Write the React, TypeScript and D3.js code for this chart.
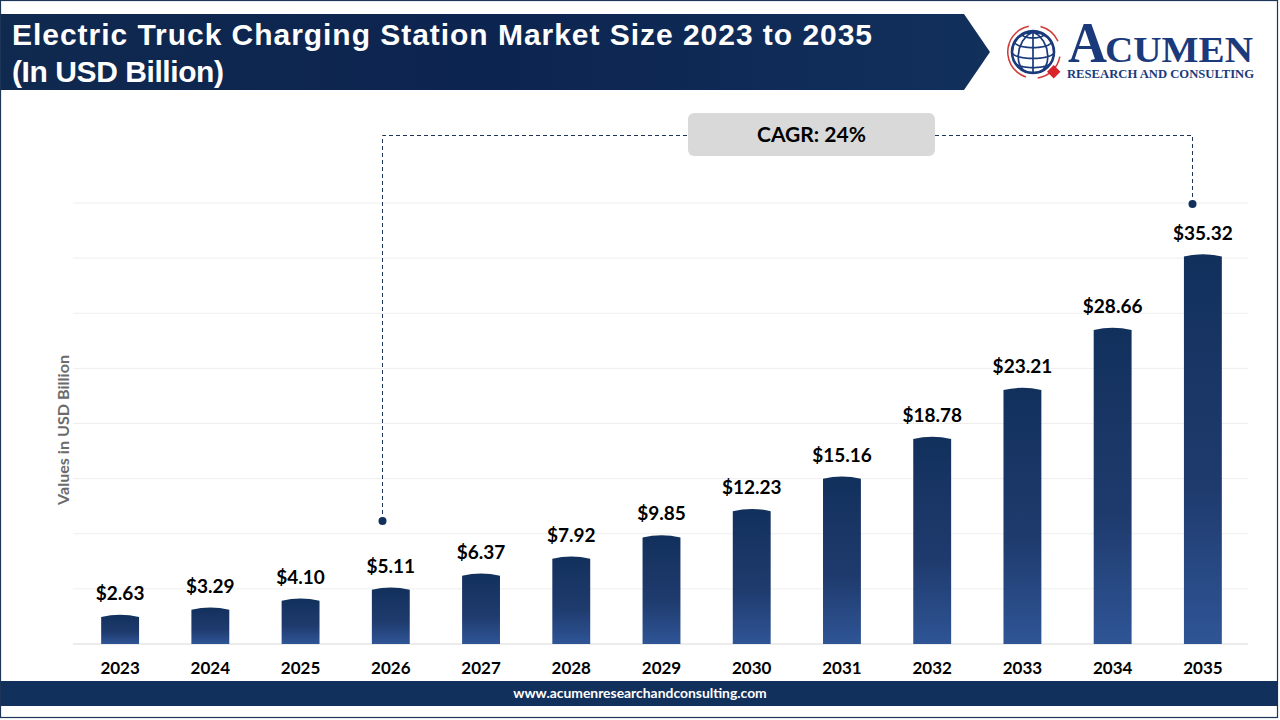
import * as d3 from "d3";

const years = ["2023", "2024", "2025", "2026", "2027", "2028", "2029", "2030", "2031", "2032", "2033", "2034", "2035"];
const marketSize = [2.63, 3.29, 4.1, 5.11, 6.37, 7.92, 9.85, 12.23, 15.16, 18.78, 23.21, 28.66, 35.32];
const gridTicks = [0, 5, 10, 15, 20, 25, 30, 35, 40];
const titleLines = ["Electric Truck Charging Station Market Size 2023 to 2035", "(In USD Billion)"];

const NAVY = "#12305c";
const LABEL_FONT = "Lato, Carlito, 'Open Sans', sans-serif";

const x = d3.scaleBand<string>().domain(years).range([75, 1248]).paddingInner(0.58).paddingOuter(0.29);
const y = d3.scaleLinear().domain([0, 40]).range([644, 203]);

// bar with a slightly domed top, like the reference
function barPath(year: string, value: number) {
  const x0 = x(year) ?? 0;
  const w = x.bandwidth();
  const top = y(value);
  const path = d3.path();
  path.moveTo(x0, y(0));
  path.lineTo(x0, top + 2);
  path.quadraticCurveTo(x0 + w / 2, top - 2.5, x0 + w, top + 2);
  path.lineTo(x0 + w, y(0));
  path.closePath();
  return path.toString();
}

function Logo() {
  const globe = d3.geoOrthographic().scale(21).translate([1033, 52]).rotate([0, -18]);
  const geo = d3.geoPath(globe);
  const graticule = d3.geoGraticule().step([45, 30])();
  const ring = d3.arc();
  const arcs = [
    [-1.35, -0.2],
    [0.25, 1.15],
    [1.75, 3.0],
    [3.45, 5.0],
  ];
  return (
    <g>
      {arcs.map((a, i) => (
        <path
          key={i}
          transform="translate(1034,52)"
          fill="#cf3a36"
          d={ring({ innerRadius: 25.5, outerRadius: 27, startAngle: a[0], endAngle: a[1] }) ?? ""}
        />
      ))}
      <circle cx={1033} cy={52} r={21} fill="#fff" stroke="#1b3a7c" strokeWidth={2.6} />
      <path d={geo(graticule) ?? ""} fill="none" stroke="#1b3a7c" strokeWidth={1.7} />
      <rect x={1049} y={67} width={9.5} height={9.5} fill="#d8232a" transform="rotate(45 1053.7 71.7)" />
      <text x={1068} y={62} fontFamily="'Liberation Serif', serif" fontWeight={700} fill="#1b3a7c" fontSize={56} textLength={39} lengthAdjust="spacingAndGlyphs">
        A
      </text>
      <text x={1105} y={62} fontFamily="'Liberation Serif', serif" fontWeight={700} fill="#1b3a7c" fontSize={36} textLength={148} lengthAdjust="spacingAndGlyphs">
        CUMEN
      </text>
      <text x={1067} y={78} fontFamily="'Liberation Serif', serif" fontWeight={700} fill="#1b3a7c" fontSize={12.5} textLength={187} lengthAdjust="spacingAndGlyphs">
        RESEARCH AND CONSULTING
      </text>
    </g>
  );
}

export default function App() {
  const start = years.indexOf("2026");
  const end = years.indexOf("2035");
  const leftX = 382.5;
  const rightX = 1192.5;
  return (
    <svg width={1280} height={720} viewBox="0 0 1280 720" style={{ position: "absolute", left: 0, top: 0, background: "#fff" }}>
      <defs>
        <linearGradient id="barFill" x1="0" y1="0" x2="0" y2="1">
          <stop offset="0" stopColor="#12305c" />
          <stop offset="0.6" stopColor="#1f3b6e" />
          <stop offset="1" stopColor="#2f5596" />
        </linearGradient>
        <linearGradient id="banner" x1="0" y1="0" x2="1" y2="0">
          <stop offset="0" stopColor="#10294f" />
          <stop offset="0.5" stopColor="#0c2450" />
          <stop offset="1" stopColor="#12305c" />
        </linearGradient>
      </defs>

      <rect x={0.5} y={0.5} width={1277} height={717} fill="#fff" stroke="#1d3557" strokeWidth={1.2} />

      <path d="M1,14H964L990,52L964,90H1Z" fill="url(#banner)" />
      {titleLines.map((line, i) => (
        <text
          key={line}
          x={12}
          y={i === 0 ? 45 : 82}
          fill="#fff"
          fontFamily="'Liberation Sans', Arial, sans-serif"
          fontWeight={700}
          fontSize={30}
          textLength={i === 0 ? 860 : 212}
          lengthAdjust="spacing"
        >
          {line}
        </text>
      ))}

      <Logo />

      {gridTicks.map((t) => (
        <line key={t} x1={73} x2={1248} y1={y(t)} y2={y(t)} stroke={t === 0 ? "#d9d9d9" : "#eeeeee"} strokeWidth={1} />
      ))}

      {years.map((year, i) => (
        <g key={year}>
          <path d={barPath(year, marketSize[i])} fill="url(#barFill)" />
          <text
            x={(x(year) ?? 0) + x.bandwidth() / 2}
            y={y(marketSize[i]) - 15}
            textAnchor="middle"
            fontFamily={LABEL_FONT}
            fontWeight={700}
            fontSize={19}
            fill="#000"
          >
            {`$${marketSize[i].toFixed(2)}`}
          </text>
          <text
            x={(x(year) ?? 0) + x.bandwidth() / 2}
            y={674}
            textAnchor="middle"
            fontFamily={LABEL_FONT}
            fontWeight={700}
            fontSize={17}
            fill="#000"
          >
            {year}
          </text>
        </g>
      ))}

      <text
        transform="translate(69,430) rotate(-90)"
        textAnchor="middle"
        fontFamily={LABEL_FONT}
        fontWeight={700}
        fontSize={15.5}
        textLength={150}
        lengthAdjust="spacingAndGlyphs"
        fill="#6b6b6b"
      >
        Values in USD Billion
      </text>

      {/* CAGR bracket from 2026 to 2035 */}
      <path
        d={`M${leftX},521V135.5H${rightX}V204`}
        fill="none"
        stroke="#1d3557"
        strokeWidth={1}
        strokeDasharray="4 3"
        data-from={years[start]}
        data-to={years[end]}
      />
      <circle cx={leftX} cy={521} r={4} fill={NAVY} />
      <circle cx={rightX} cy={204} r={4} fill={NAVY} />
      <rect x={688} y={113} width={247} height={43} rx={6} fill="#d9d9d9" />
      <text x={811.5} y={142} textAnchor="middle" fontFamily={LABEL_FONT} fontWeight={700} fontSize={21} fill="#000">
        CAGR: 24%
      </text>

      <rect x={1} y={681} width={1277} height={25} fill={NAVY} />
      <text x={640} y={698} textAnchor="middle" fontFamily={LABEL_FONT} fontWeight={700} fontSize={13.9} fill="#fff">
        www.acumenresearchandconsulting.com
      </text>
    </svg>
  );
}
